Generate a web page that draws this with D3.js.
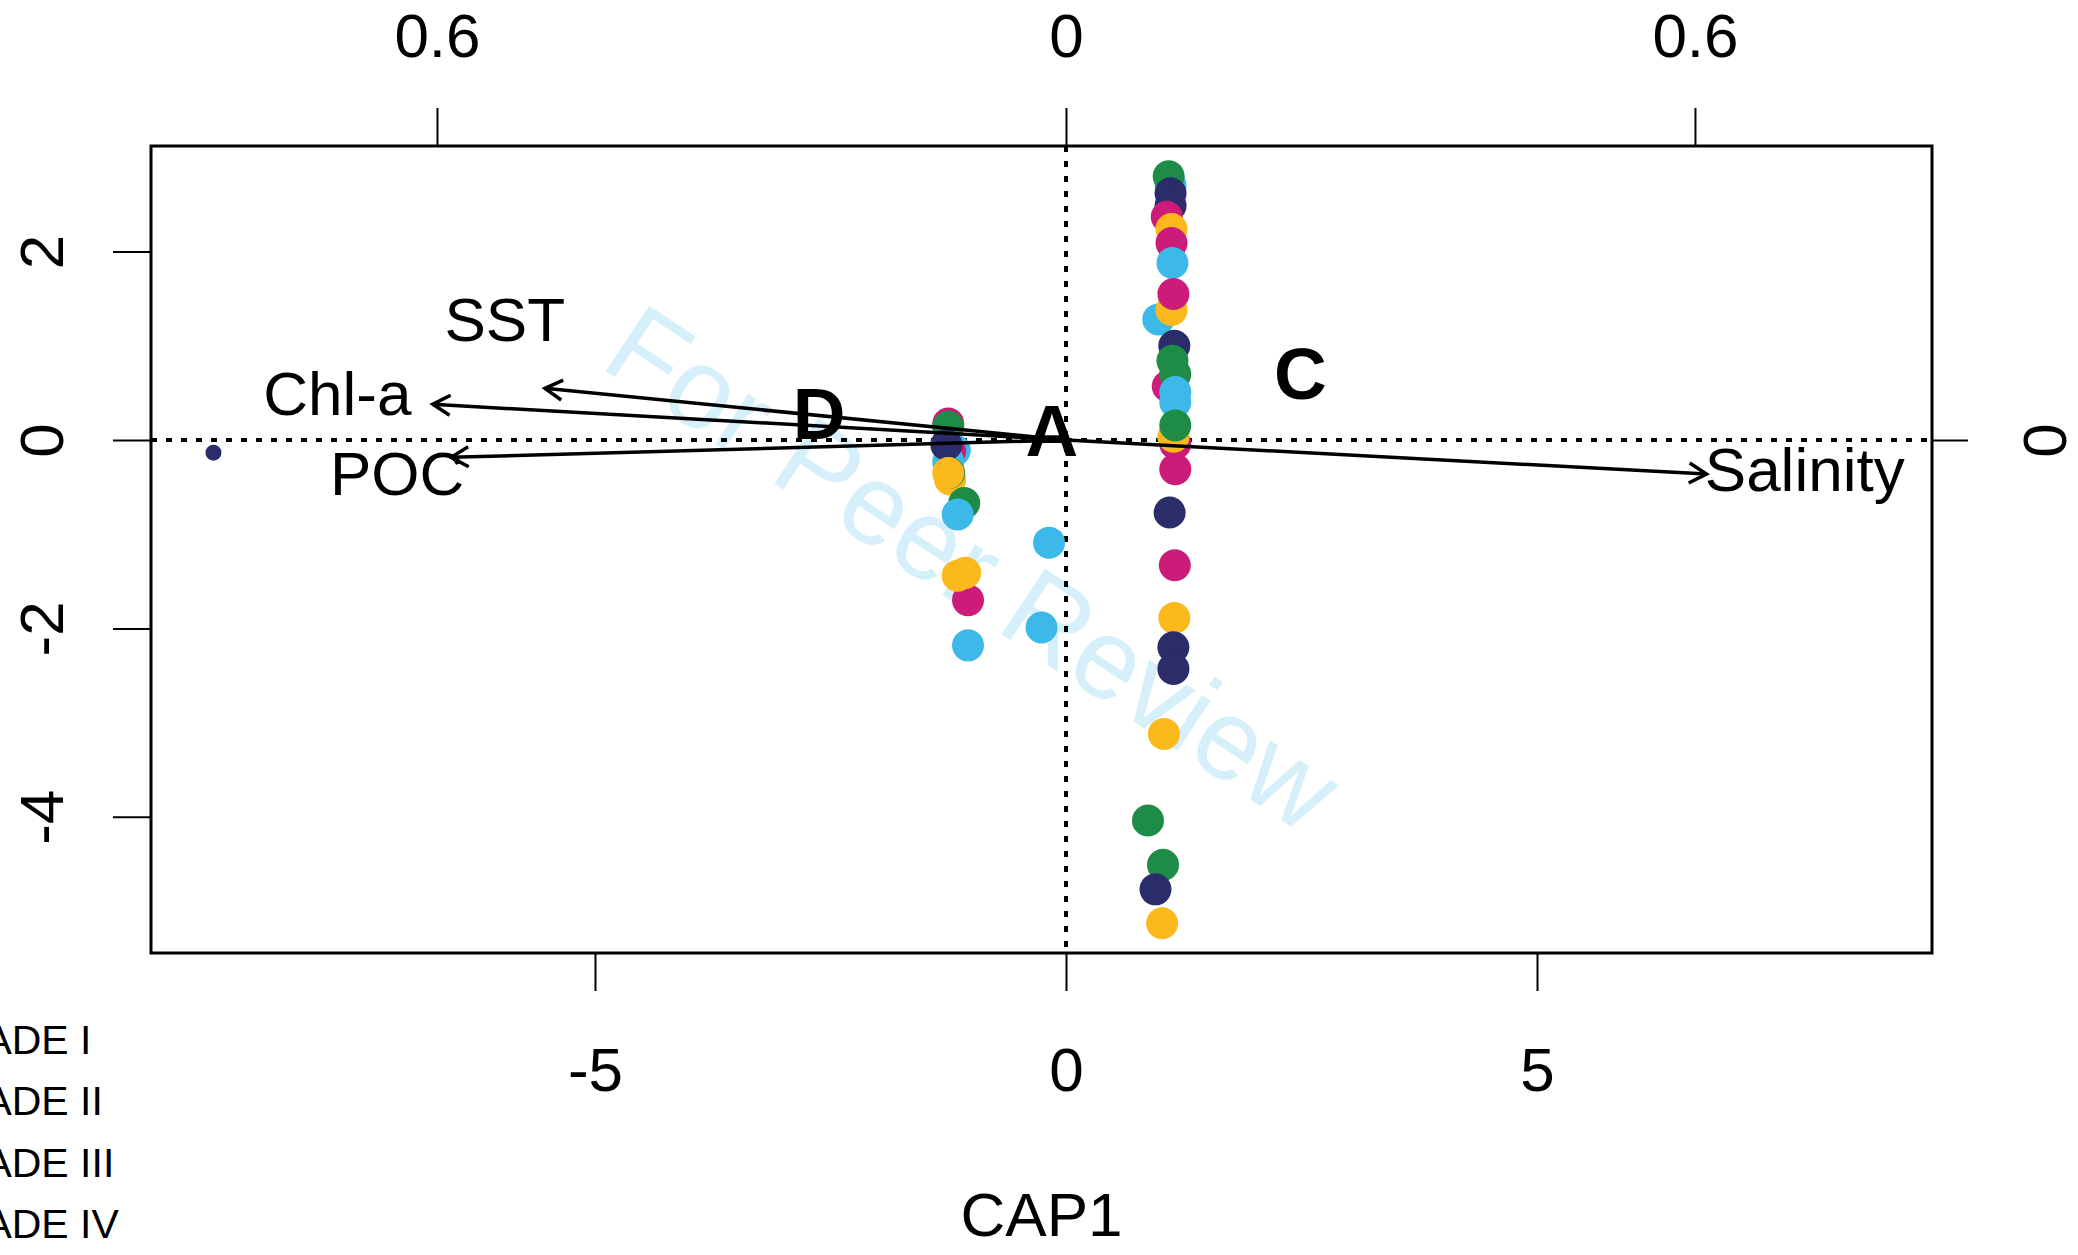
<!DOCTYPE html>
<html><head><meta charset="utf-8">
<script src="https://cdn.jsdelivr.net/npm/d3@7"></script>
<style>html,body{margin:0;padding:0;background:#fff;overflow:hidden}</style>
</head><body><svg id="chart" width="2078" height="1255"></svg>
<script>
// ---------------- data ----------------
const groupColors = ["#1e8c46", "#2b2d6b", "#cc1b78", "#3cb9e9", "#fcb91e"];
const legendLabels = ["CLADE I", "CLADE II", "CLADE III", "CLADE IV"];

// site scores (CAP1, CAP2) and group index: 0 green,1 navy,2 magenta,3 light blue,4 yellow
const siteX = [1.11, 1.09, 1.11, 1.11, 1.07, 1.12, 1.12, 1.13, 0.98, 1.12, 1.14,
  1.15, 1.08, 1.13, 1.16, 1.16, 1.16, 1.16, 1.14, 1.16, 1.16, 1.10, 1.155, 1.15,
  1.14, 1.14, 1.04, 0.87, 1.03, 0.95, 1.02,
  -1.25, -1.25, -1.18, -1.23, -1.25, -1.27, -1.23, -1.24, -1.25, -1.08, -1.15,
  -0.18, -1.04, -1.15, -1.07, -0.26, -1.04];
const siteY = [2.70, 2.80, 2.62, 2.49, 2.37, 2.24, 2.09, 1.88, 1.28, 1.38, 1.55,
  1.00, 0.57, 0.84, 0.70, 0.51, 0.40, -0.04, 0.035, 0.155, -0.31, -0.77, -1.33, -1.89,
  -2.20, -2.43, -3.12, -4.04, -4.51, -4.77, -5.13,
  0.175, 0.14, -0.11, -0.12, -0.23, -0.05, -0.42, -0.35, -0.35, -0.67, -0.79,
  -1.09, -1.70, -1.44, -1.41, -1.99, -2.18];
const siteGroup = [3, 0, 1, 1, 2, 4, 2, 3, 3, 4, 2,
  1, 2, 0, 0, 3, 3, 2, 4, 0, 2, 1, 2, 4,
  1, 1, 4, 0, 0, 1, 4,
  2, 0, 3, 2, 3, 1, 4, 0, 4, 0, 3,
  3, 2, 4, 4, 3, 3];

// small point far left
const extraX = [-9.05];
const extraY = [-0.135];

// biplot arrows (arrow-scale units)
const envNames = ["SST", "Chl-a", "POC", "Salinity"];
const envX = [-0.497, -0.604, -0.5865, 0.611];
const envY = [0.0493, 0.0341, -0.0165, -0.0324];
const envLabelX = [-0.5353, -0.695, -0.638, 0.7047];
const envLabelY = [0.116, 0.0448, -0.0311, -0.027];

// group centroid labels (CAP units)
const centroidNames = ["D", "A", "C"];
const centroidX = [-2.62, -0.149, 2.489];
const centroidY = [0.29, 0.106, 0.712];

// axes
const xDomain = [-9.713, 9.193];
const yDomain = [-5.446, 3.121];
const axDomain = [-0.8728, 0.8261];
const ayDomain = [-0.4894, 0.2805];
const xTicks = [-5, 0, 5];
const yTicks = [-4, -2, 0, 2];
const topTicks = [-0.6, 0, 0.6];
const topTickLabels = ["0.6", "0", "0.6"];
const rightTicks = [0];
const rightTickLabels = ["0"];
const xTitle = "CAP1";
const watermark = "For Peer Review";

// ---------------- layout ----------------
const L = 151, R = 1932, T = 146, B = 953;
const FONT = "'Liberation Sans', Arial, Helvetica, sans-serif";
const svg = d3.select("#chart");

const x = d3.scaleLinear().domain(xDomain).range([L, R]);
const y = d3.scaleLinear().domain(yDomain).range([B, T]);
const ax = d3.scaleLinear().domain(axDomain).range([L, R]);
const ay = d3.scaleLinear().domain(ayDomain).range([B, T]);

// watermark
svg.append("text")
  .attr("transform", "translate(598,366) rotate(33.6)")
  .attr("font-family", FONT).attr("font-size", 114)
  .attr("fill", "#d5effb")
  .text(watermark);

// dotted zero lines
svg.append("line").attr("x1", L).attr("x2", R).attr("y1", y(0)).attr("y2", y(0))
  .attr("stroke", "#000").attr("stroke-width", 4).attr("stroke-dasharray", "6,9");
svg.append("line").attr("x1", x(0)).attr("x2", x(0)).attr("y1", T).attr("y2", B)
  .attr("stroke", "#000").attr("stroke-width", 4).attr("stroke-dasharray", "6,9");

// points
svg.append("g").selectAll("circle").data(d3.range(siteX.length)).join("circle")
  .attr("cx", i => x(siteX[i])).attr("cy", i => y(siteY[i])).attr("r", 16)
  .attr("fill", i => groupColors[siteGroup[i]]);
svg.append("g").selectAll("circle").data(d3.range(extraX.length)).join("circle")
  .attr("cx", i => x(extraX[i])).attr("cy", i => y(extraY[i])).attr("r", 8)
  .attr("fill", groupColors[1]);

// arrows
const ag = svg.append("g").attr("stroke", "#000").attr("stroke-width", 3.5).attr("fill", "none");
envNames.forEach((n, i) => {
  const x0 = ax(0), y0 = ay(0), x1 = ax(envX[i]), y1 = ay(envY[i]);
  ag.append("line").attr("x1", x0).attr("y1", y0).attr("x2", x1).attr("y2", y1);
  const ang = Math.atan2(y1 - y0, x1 - x0);
  const hl = 20, ha = Math.PI / 6;
  const p1 = [x1 - hl * Math.cos(ang - ha), y1 - hl * Math.sin(ang - ha)];
  const p2 = [x1 - hl * Math.cos(ang + ha), y1 - hl * Math.sin(ang + ha)];
  ag.append("path").attr("d", `M${p1[0]},${p1[1]}L${x1},${y1}L${p2[0]},${p2[1]}`)
    .attr("stroke-linejoin", "miter");
});
svg.append("g").selectAll("text").data(envNames).join("text")
  .attr("x", (d, i) => ax(envLabelX[i])).attr("y", (d, i) => ay(envLabelY[i]))
  .attr("dy", "0.36em").attr("text-anchor", "middle")
  .attr("font-family", FONT).attr("font-size", 62).attr("fill", "#000")
  .text(d => d);

// centroid labels
svg.append("g").selectAll("text").data(centroidNames).join("text")
  .attr("x", (d, i) => x(centroidX[i])).attr("y", (d, i) => y(centroidY[i]))
  .attr("dy", "0.36em").attr("text-anchor", "middle")
  .attr("font-family", FONT).attr("font-size", 73).attr("font-weight", "bold")
  .attr("fill", "#000").text(d => d);

// box
svg.append("rect").attr("x", L).attr("y", T).attr("width", R - L).attr("height", B - T)
  .attr("fill", "none").attr("stroke", "#000").attr("stroke-width", 3);

function styleAxis(g) {
  g.select(".domain").remove();
  g.attr("font-family", FONT).attr("font-size", 62);
  g.selectAll(".tick line").attr("stroke-width", 2);
  g.selectAll(".tick text").attr("fill", "#000");
}

svg.append("g").attr("transform", `translate(0,${B})`)
  .call(d3.axisBottom(x).tickValues(xTicks).tickSize(38).tickPadding(56).tickFormat(d => String(d)))
  .call(styleAxis);
svg.append("g").attr("transform", `translate(0,${T})`)
  .call(d3.axisTop(ax).tickValues(topTicks).tickSize(38).tickPadding(51).tickFormat((d, i) => topTickLabels[i]))
  .call(styleAxis);
svg.append("g").attr("transform", `translate(${L},0)`)
  .call(d3.axisLeft(y).tickValues(yTicks).tickSize(38).tickFormat(d => String(d)))
  .call(styleAxis)
  .call(g => g.selectAll(".tick text").attr("x", 0).attr("dy", 0).attr("text-anchor", "middle")
    .attr("transform", "translate(-88,0) rotate(-90)"));
svg.append("g").attr("transform", `translate(${R},0)`)
  .call(d3.axisRight(ay).tickValues(rightTicks).tickSize(36).tickFormat((d, i) => rightTickLabels[i]))
  .call(styleAxis)
  .call(g => g.selectAll(".tick text").attr("x", 0).attr("dy", 0).attr("text-anchor", "middle")
    .attr("transform", "translate(134,0) rotate(-90)"));

// x title
svg.append("text").attr("x", (L + R) / 2).attr("y", 1236).attr("text-anchor", "middle")
  .attr("font-family", FONT).attr("font-size", 62).attr("fill", "#000").text(xTitle);

// legend (partially off-canvas, as in the reference)
svg.append("g").selectAll("text").data(legendLabels).join("text")
  .attr("x", -68).attr("y", (d, i) => 1054 + i * 61.4)
  .attr("font-family", FONT).attr("font-size", 41).attr("fill", "#000")
  .text(d => d);
</script>
</body></html>
